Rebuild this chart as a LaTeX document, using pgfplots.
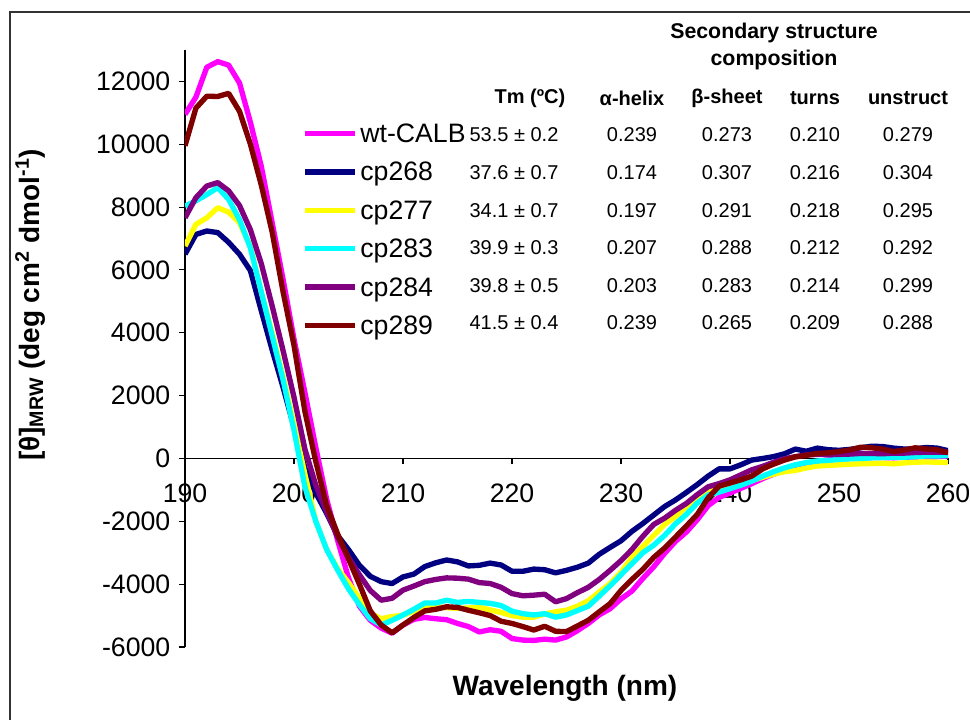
\documentclass[border=0pt]{standalone}
\usepackage{fontspec}
\setmainfont{Liberation Sans}
\usepackage{pgfplots}
\pgfplotsset{compat=1.18}
\definecolor{cmag}{RGB}{255,0,255}
\definecolor{cnavy}{RGB}{0,0,128}
\definecolor{cyel}{RGB}{255,255,0}
\definecolor{ccyan}{RGB}{0,255,255}
\definecolor{cpurp}{RGB}{128,0,128}
\definecolor{cmar}{RGB}{128,0,0}
\newcommand{\tblfont}{\fontsize{15}{18}\selectfont}
\newcommand{\cell}[3]{\node[font=\tblfont,inner sep=0pt] at ({#1*0.75pt},{(719-#2)*0.75pt}) {#3};}
\newcommand{\hcell}[3]{\node[font=\tblfont\bfseries,inner sep=0pt] at ({#1*0.75pt},{(719-#2)*0.75pt}) {#3};}
\begin{document}
\begin{tikzpicture}
\useasboundingbox (0pt,0pt) rectangle (727.5pt,539.25pt);
\draw[line width=1.1pt, black!80] (7.5pt,-2pt) -- (7.5pt,530.25pt) -- (730pt,530.25pt);
\begin{axis}[
  at={(138.75pt,54pt)}, anchor=south west,
  scale only axis, width=572.25pt, height=447.75pt,
  xmin=190, xmax=260, ymin=-6000, ymax=13000,
  axis x line=middle, axis y line=left,
  axis line style={-, line width=0.8pt, black},
  hide obscured x ticks=false, hide obscured y ticks=false,
  xtick={190,200,...,260}, ytick={-6000,-4000,...,12000},
  scaled y ticks=false, scaled x ticks=false,
  minor tick num=0,
  tick align=outside, major tick length=4.5pt,
  tick style={black, line width=0.8pt},
  ticklabel style={font=\fontsize{20}{24}\selectfont},
  /pgf/number format/assume math mode=true,
  /pgf/number format/1000 sep={},
  yticklabel style={xshift=-3pt},
  xticklabel style={yshift=-11pt},
  xlabel={Wavelength (nm)},
  xlabel style={font=\fontsize{21}{25}\selectfont\bfseries, at={(axis description cs:0.498,-0.0687)}, anchor=center},
  ylabel={[θ]\textsubscript{MRW} (deg cm\textsuperscript{2} dmol\textsuperscript{-1})},
  ylabel style={font=\fontsize{21}{25}\selectfont\bfseries, at={(axis description cs:-0.203,0.573)}, anchor=center},
  legend image code/.code={\draw[#1, line width=4pt] (0pt,0pt) -- (37.5pt,0pt);},
  legend style={at={(axis description cs:0.1535,0.878)}, anchor=north west, draw=none, fill=none,
    inner sep=0pt, row sep=13.3pt, column sep=2pt,
    font=\fontsize{20}{24}\selectfont,
    nodes={inner sep=0pt, text height=14.5pt, text depth=1pt}},
  legend cell align=left,
  every axis plot/.append style={line width=4pt, line join=round},
]
\addplot[cmag] coordinates {
(190,10950)(191,11500)(192,12450)(193,12630)(194,12520)(195,11950)(196,10700)(197,9300)(198,7500)(199,5700)
(200,3800)(201,2100)(202,350)(203,-1300)(204,-2600)(205,-3800)(206,-4700)(207,-5150)(208,-5400)(209,-5560)
(210,-5300)(211,-5120)(212,-5060)(213,-5100)(214,-5130)(215,-5250)(216,-5350)(217,-5520)(218,-5450)(219,-5500)
(220,-5730)(221,-5780)(222,-5790)(223,-5750)(224,-5780)(225,-5680)(226,-5480)(227,-5250)(228,-4980)(229,-4780)
(230,-4470)(231,-4220)(232,-3820)(233,-3450)(234,-3020)(235,-2640)(236,-2340)(237,-1950)(238,-1500)(239,-1240)
(240,-1100)(241,-950)(242,-800)(243,-640)(244,-500)(245,-380)(246,-260)(247,-180)(248,-100)(249,-50)
(250,-20)(251,0)(252,10)(253,30)(254,30)(255,20)(256,40)(257,50)(258,60)(259,60)(260,80)};
\addlegendentry{wt-CALB}
\addplot[cnavy] coordinates {
(190,6500)(191,7130)(192,7240)(193,7190)(194,6880)(195,6500)(196,5980)(197,4700)(198,3450)(199,2260)
(200,1000)(201,-300)(202,-1100)(203,-1750)(204,-2450)(205,-2900)(206,-3400)(207,-3750)(208,-3920)(209,-3980)
(210,-3770)(211,-3680)(212,-3440)(213,-3320)(214,-3230)(215,-3290)(216,-3420)(217,-3400)(218,-3330)(219,-3390)
(220,-3590)(221,-3590)(222,-3520)(223,-3540)(224,-3640)(225,-3560)(226,-3460)(227,-3330)(228,-3050)(229,-2830)
(230,-2620)(231,-2320)(232,-2070)(233,-1800)(234,-1530)(235,-1320)(236,-1080)(237,-830)(238,-560)(239,-330)
(240,-330)(241,-200)(242,-50)(243,0)(244,60)(245,150)(246,300)(247,230)(248,330)(249,280)
(250,260)(251,290)(252,340)(253,390)(254,380)(255,330)(256,300)(257,310)(258,350)(259,330)(260,250)};
\addlegendentry{cp268}
\addplot[cyel] coordinates {
(190,6760)(191,7450)(192,7660)(193,7980)(194,7840)(195,7500)(196,6750)(197,5300)(198,4000)(199,2600)
(200,1100)(201,-500)(202,-2000)(203,-2900)(204,-3500)(205,-3950)(206,-4450)(207,-4930)(208,-5100)(209,-5030)
(210,-4990)(211,-4860)(212,-4750)(213,-4720)(214,-4750)(215,-4770)(216,-4760)(217,-4730)(218,-4820)(219,-4900)
(220,-5000)(221,-5050)(222,-5050)(223,-4950)(224,-4880)(225,-4830)(226,-4700)(227,-4530)(228,-4250)(229,-3980)
(230,-3620)(231,-3150)(232,-2800)(233,-2450)(234,-2100)(235,-1850)(236,-1530)(237,-1280)(238,-1080)(239,-960)
(240,-860)(241,-780)(242,-700)(243,-600)(244,-500)(245,-420)(246,-380)(247,-300)(248,-240)(249,-220)
(250,-200)(251,-180)(252,-170)(253,-160)(254,-150)(255,-170)(256,-140)(257,-120)(258,-110)(259,-120)(260,-130)};
\addlegendentry{cp277}
\addplot[ccyan] coordinates {
(190,8030)(191,8200)(192,8400)(193,8620)(194,8250)(195,7600)(196,6700)(197,5300)(198,3900)(199,2500)
(200,900)(201,-900)(202,-2000)(203,-2900)(204,-3550)(205,-4150)(206,-4650)(207,-5100)(208,-5300)(209,-5150)
(210,-4980)(211,-4800)(212,-4600)(213,-4600)(214,-4510)(215,-4580)(216,-4550)(217,-4580)(218,-4610)(219,-4680)
(220,-4860)(221,-4940)(222,-4980)(223,-4940)(224,-5050)(225,-4980)(226,-4840)(227,-4700)(228,-4380)(229,-4050)
(230,-3700)(231,-3350)(232,-3000)(233,-2760)(234,-2450)(235,-2080)(236,-1780)(237,-1420)(238,-1160)(239,-1070)
(240,-960)(241,-850)(242,-720)(243,-560)(244,-420)(245,-300)(246,-200)(247,-130)(248,-80)(249,-60)
(250,-30)(251,-10)(252,0)(253,20)(254,30)(255,40)(256,40)(257,60)(258,80)(259,80)(260,95)};
\addlegendentry{cp283}
\addplot[cpurp] coordinates {
(190,7660)(191,8300)(192,8670)(193,8780)(194,8520)(195,8050)(196,7280)(197,6200)(198,4850)(199,3430)
(200,1950)(201,300)(202,-850)(203,-1700)(204,-2500)(205,-3150)(206,-3700)(207,-4200)(208,-4510)(209,-4450)
(210,-4190)(211,-4060)(212,-3920)(213,-3850)(214,-3800)(215,-3810)(216,-3840)(217,-3950)(218,-3980)(219,-4100)
(220,-4300)(221,-4370)(222,-4350)(223,-4320)(224,-4560)(225,-4460)(226,-4270)(227,-4100)(228,-3850)(229,-3560)
(230,-3250)(231,-2900)(232,-2480)(233,-2100)(234,-1900)(235,-1650)(236,-1430)(237,-1150)(238,-900)(239,-800)
(240,-680)(241,-520)(242,-360)(243,-250)(244,-120)(245,-10)(246,60)(247,110)(248,130)(249,120)
(250,130)(251,140)(252,160)(253,160)(254,150)(255,170)(256,170)(257,190)(258,200)(259,200)(260,200)};
\addlegendentry{cp284}
\addplot[cmar] coordinates {
(190,9950)(191,11150)(192,11530)(193,11520)(194,11620)(195,11050)(196,10000)(197,8700)(198,7200)(199,5300)
(200,3600)(201,1500)(202,-100)(203,-1500)(204,-2400)(205,-3200)(206,-4000)(207,-4850)(208,-5300)(209,-5550)
(210,-5300)(211,-5060)(212,-4850)(213,-4800)(214,-4720)(215,-4740)(216,-4830)(217,-4910)(218,-5000)(219,-5180)
(220,-5250)(221,-5350)(222,-5460)(223,-5340)(224,-5500)(225,-5510)(226,-5330)(227,-5150)(228,-4880)(229,-4620)
(230,-4200)(231,-3850)(232,-3530)(233,-3150)(234,-2850)(235,-2500)(236,-2150)(237,-1780)(238,-1250)(239,-880)
(240,-780)(241,-680)(242,-560)(243,-330)(244,-180)(245,-50)(246,50)(247,100)(248,160)(249,180)
(250,220)(251,270)(252,360)(253,340)(254,300)(255,220)(256,270)(257,340)(258,300)(259,280)(260,180)};
\addlegendentry{cp289}
\end{axis}
\node[font=\fontsize{16}{19}\selectfont\bfseries, inner sep=0pt] at ({774*0.75pt},{(719-33)*0.75pt}) {Secondary structure};
\node[font=\fontsize{16}{19}\selectfont\bfseries, inner sep=0pt] at ({774*0.75pt},{(719-60)*0.75pt}) {composition};
\hcell{530}{98}{Tm (ºC)}
\hcell{632}{98}{α-helix}
\hcell{727}{98}{β-sheet}
\hcell{815}{98}{turns}
\hcell{908}{98}{unstruct}
\cell{514}{135}{53.5 ± 0.2}\cell{632}{135}{0.239}\cell{727}{135}{0.273}\cell{815}{135}{0.210}\cell{908}{135}{0.279}
\cell{514}{173}{37.6 ± 0.7}\cell{632}{173}{0.174}\cell{727}{173}{0.307}\cell{815}{173}{0.216}\cell{908}{173}{0.304}
\cell{514}{211}{34.1 ± 0.7}\cell{632}{211}{0.197}\cell{727}{211}{0.291}\cell{815}{211}{0.218}\cell{908}{211}{0.295}
\cell{514}{248}{39.9 ± 0.3}\cell{632}{248}{0.207}\cell{727}{248}{0.288}\cell{815}{248}{0.212}\cell{908}{248}{0.292}
\cell{514}{286}{39.8 ± 0.5}\cell{632}{286}{0.203}\cell{727}{286}{0.283}\cell{815}{286}{0.214}\cell{908}{286}{0.299}
\cell{514}{323}{41.5 ± 0.4}\cell{632}{323}{0.239}\cell{727}{323}{0.265}\cell{815}{323}{0.209}\cell{908}{323}{0.288}
\end{tikzpicture}
\end{document}
